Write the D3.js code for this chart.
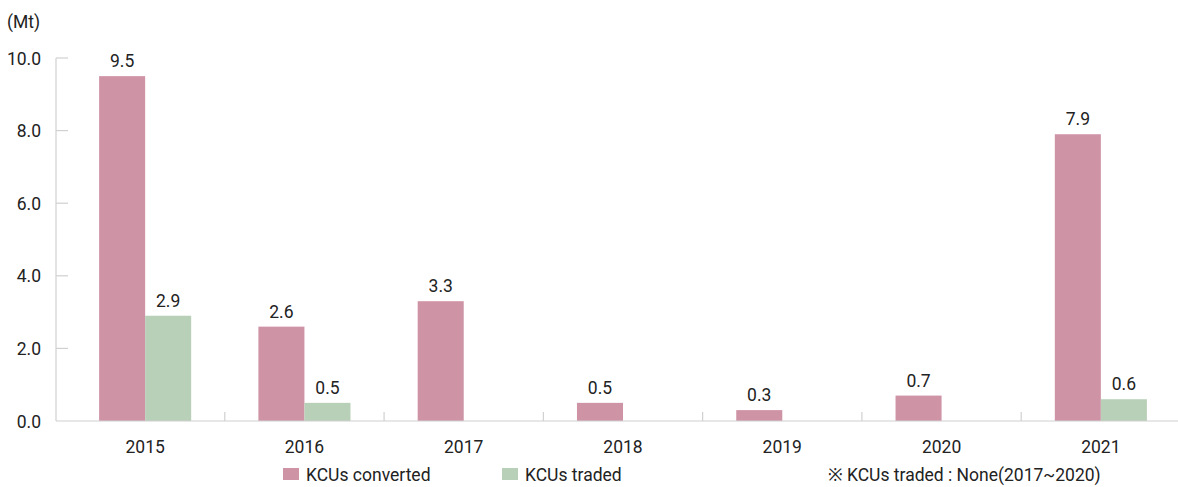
<!DOCTYPE html>
<html>
<head>
<meta charset="utf-8">
<script src="https://cdn.jsdelivr.net/npm/d3@7/dist/d3.min.js"></script>
<style>
  html, body { margin: 0; padding: 0; background: #fff; }
  svg { display: block; font-family: Roboto, "Noto Sans", sans-serif; font-weight: 400; }
</style>
</head>
<body>
<svg id="chart" width="1178" height="487"></svg>
<script>
// Korean Credit Units (KCUs) converted and traded, by year (Mt)
const years = ["2015", "2016", "2017", "2018", "2019", "2020", "2021"];
const converted = [9.5, 2.6, 3.3, 0.5, 0.3, 0.7, 7.9];
const traded = [2.9, 0.5, null, null, null, null, 0.6];
const yTicks = [0, 2, 4, 6, 8, 10];
const seriesNames = ["KCUs converted", "KCUs traded"];
const seriesColors = ["#cf93a6", "#b8cfb8"];
const footnote = "※ KCUs traded : None(2017~2020)";

const svg = d3.select("#chart");
const axisColor = "#d0d0d0";
const textColor = "#222";
const fs = 17.5;

const x = d3.scaleBand().domain(years).range([65.5, 1180.5]).padding(0);
// two bars of ~46px centred in each ~159px band
const inner = d3.scaleBand().domain([0, 1]).range([0, x.bandwidth()]).paddingInner(0).paddingOuter(0.73);
const y = d3.scaleLinear().domain([0, 10]).range([421, 58]);

// unit label
svg.append("text").attr("x", 7).attr("y", 28)
  .attr("font-size", fs).attr("fill", textColor).text("(Mt)");

// y axis: vertical line with short ticks pointing inward
const yAxis = svg.append("g");
yAxis.append("line").attr("x1", 56).attr("x2", 56).attr("y1", y(10)).attr("y2", y(0))
  .attr("stroke", axisColor).attr("stroke-width", 1.2);
yAxis.selectAll("line.tick").data(yTicks.filter(d => d > 0)).join("line")
  .attr("class", "tick")
  .attr("x1", 56).attr("x2", 68)
  .attr("y1", d => y(d)).attr("y2", d => y(d))
  .attr("stroke", axisColor).attr("stroke-width", 1.2);
yAxis.selectAll("text").data(yTicks).join("text")
  .attr("x", 41).attr("y", d => y(d) + 6.5)
  .attr("text-anchor", "end").attr("font-size", fs).attr("fill", textColor)
  .text(d => d3.format(".1f")(d));

// bars with value labels
const seriesData = [converted, traded];
seriesData.forEach((vals, si) => {
  const g = svg.append("g");
  const pts = years.map((yr, i) => ({ yr, v: vals[i] })).filter(d => d.v != null);
  g.selectAll("rect").data(pts).join("rect")
    .attr("x", d => x(d.yr) + inner(si))
    .attr("width", inner.bandwidth())
    .attr("y", d => y(d.v))
    .attr("height", d => y(0) - y(d.v))
    .attr("fill", seriesColors[si]);
  g.selectAll("text").data(pts).join("text")
    .attr("x", d => x(d.yr) + inner(si) + inner.bandwidth() / 2)
    .attr("y", d => y(d.v) - 9)
    .attr("text-anchor", "middle").attr("font-size", fs).attr("fill", textColor)
    .text(d => d3.format(".1f")(d.v));
});

// x axis: baseline with category separators
const xAxis = svg.append("g");
xAxis.append("line").attr("x1", 56).attr("x2", 1178).attr("y1", y(0)).attr("y2", y(0))
  .attr("stroke", axisColor).attr("stroke-width", 1.2);
xAxis.selectAll("line.sep").data(years.slice(1)).join("line")
  .attr("class", "sep")
  .attr("x1", d => x(d)).attr("x2", d => x(d))
  .attr("y1", y(0)).attr("y2", y(0) - 9)
  .attr("stroke", axisColor).attr("stroke-width", 1.2);
xAxis.selectAll("text").data(years).join("text")
  .attr("x", d => x(d) + x.bandwidth() / 2)
  .attr("y", 453)
  .attr("text-anchor", "middle").attr("font-size", fs).attr("fill", textColor)
  .text(d => d);

// legend
const legendX = [283, 502];
const legend = svg.append("g");
seriesNames.forEach((name, i) => {
  legend.append("rect").attr("x", legendX[i]).attr("y", 468).attr("width", 16).attr("height", 12)
    .attr("fill", seriesColors[i]);
  legend.append("text").attr("x", legendX[i] + 23).attr("y", 481)
    .attr("font-size", fs).attr("fill", textColor).text(name);
});
legend.append("text").attr("x", 828).attr("y", 481)
  .attr("font-size", fs).attr("fill", textColor).text(footnote);
</script>
</body>
</html>
